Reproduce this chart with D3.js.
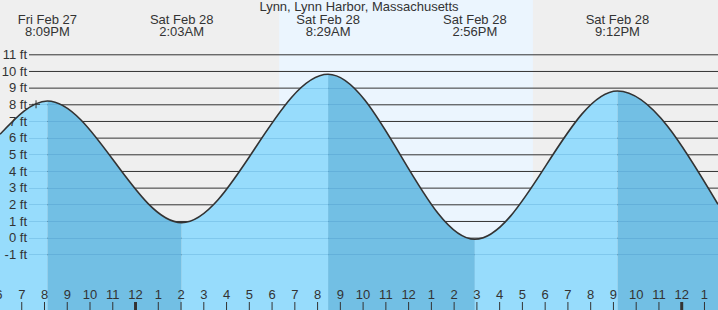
<!DOCTYPE html>
<html>
<head>
<meta charset="utf-8">
<script src="https://cdn.jsdelivr.net/npm/d3@7"></script>
<style>
  body { margin: 0; background: #efefef; }
  svg { display: block; font-family: "Liberation Sans", Arial, sans-serif; }
</style>
</head>
<body>
<div id="chart"></div>
<script>
// tide chart - Lynn Harbor

const width = 718, height = 310;

const title = "Lynn, Lynn Harbor, Massachusetts";

// high / low predictions
const tideTimes = ["2026-02-27 20:09", "2026-02-28 02:03", "2026-02-28 08:29", "2026-02-28 14:56", "2026-02-28 21:12"];
const tideHeights = [8.2, 0.9, 9.8, -0.1, 8.8];

// curve values read at the chart edges
const edgeTimes = ["2026-02-27 18:04", "2026-03-01 01:37"];
const edgeHeights = [6.2, 2.0];

const sunTimes = ["2026-02-28 06:20", "2026-02-28 17:29"];
const nowTime = "2026-02-27 19:39";
const nowHeight = 8.0;

const yTicks = [-1, 0, 1, 2, 3, 4, 5, 6, 7, 8, 9, 10, 11];

const parse = d3.timeParse("%Y-%m-%d %H:%M");

const extremes = tideTimes.map((t, i) => ({ t: parse(t), h: tideHeights[i] }));
const points = [{ t: parse(edgeTimes[0]), h: edgeHeights[0] }]
  .concat(extremes)
  .concat([{ t: parse(edgeTimes[1]), h: edgeHeights[1] }]);

const x = d3.scaleTime()
  .domain([parse(edgeTimes[0]), parse(edgeTimes[1])])
  .range([0, width]);

const y = d3.scaleLinear()
  .domain([-1, 11])
  .range([254.3, 54.3]);

const svg = d3.select("#chart")
  .append("svg")
  .attr("width", width)
  .attr("height", height);

// night / day background
svg.append("rect")
  .attr("width", width).attr("height", height)
  .attr("fill", "#efefef");
svg.append("rect")
  .attr("x", x(parse(sunTimes[0])))
  .attr("width", x(parse(sunTimes[1])) - x(parse(sunTimes[0])))
  .attr("height", height)
  .attr("fill", "#ebf5fe");

// grid lines
const grid = svg.append("g")
  .attr("transform", "translate(29,0)")
  .call(d3.axisLeft(y).tickValues(yTicks).tickSize(-(width - 29)).tickFormat(""));
grid.select(".domain").remove();
grid.selectAll("line").attr("stroke", "#333");

// water
const area = d3.area()
  .x(d => x(d.t))
  .y0(height)
  .y1(d => y(d.h))
  .curve(d3.curveMonotoneX);

const line = d3.line()
  .x(d => x(d.t))
  .y(d => y(d.h))
  .curve(d3.curveMonotoneX);

svg.append("clipPath")
  .attr("id", "water")
  .append("path")
  .attr("d", area(points));

const water = svg.append("g").attr("clip-path", "url(#water)");

// falling = darker, rising = lighter
const bounds = [x.domain()[0]].concat(extremes.map(d => d.t)).concat([x.domain()[1]]);
for (let i = 0; i < bounds.length - 1; i++) {
  let falling;
  if (i == 0) falling = extremes[0].h < extremes[1].h;
  else falling = extremes[i - 1].h > (extremes[i] ? extremes[i].h : -99);
  water.append("rect")
    .attr("x", x(bounds[i]))
    .attr("width", x(bounds[i + 1]) - x(bounds[i]))
    .attr("y", 0)
    .attr("height", height)
    .attr("fill", falling ? "#72bfe4" : "#97dcfc");
}

water.selectAll(".wline")
  .data(yTicks)
  .enter()
  .append("line")
  .attr("class", "wline")
  .attr("x1", 29).attr("x2", width)
  .attr("y1", d => Math.round(y(d)) + 0.5)
  .attr("y2", d => Math.round(y(d)) + 0.5)
  .attr("stroke", "rgba(40,120,180,0.2)");

svg.append("path")
  .attr("d", line(points))
  .attr("fill", "none")
  .attr("stroke", "#333")
  .attr("stroke-width", 1.6);

// y labels on top of the water
const yAxis = svg.append("g")
  .attr("transform", "translate(29,0)")
  .call(d3.axisLeft(y).tickValues(yTicks).tickSize(0).tickPadding(2).tickFormat(d => d + " ft"));
yAxis.select(".domain").remove();
yAxis.selectAll("text")
  .attr("fill", "#333")
  .attr("font-size", "13px")
  .attr("font-family", "Liberation Sans, Arial, sans-serif");

// current time marker
const nx = x(parse(nowTime)), ny = y(nowHeight);
svg.append("line")
  .attr("x1", nx).attr("x2", nx)
  .attr("y1", ny - 4).attr("y2", ny + 4)
  .attr("stroke", "#333");
svg.append("line")
  .attr("x1", nx - 4).attr("x2", nx + 4)
  .attr("y1", ny).attr("y2", ny)
  .attr("stroke", "#333");

// hour axis (first hour sits just off the left edge)
const hours = d3.timeHour.range(d3.timeHour.floor(x.domain()[0]), x.domain()[1]);
const xAxis = svg.append("g")
  .attr("transform", `translate(0,${height})`)
  .call(d3.axisTop(x).tickValues(hours).tickSize(8).tickPadding(3).tickFormat(d3.timeFormat("%-I")));
xAxis.select(".domain").remove();
xAxis.selectAll("line")
  .attr("stroke", "#333")
  .attr("stroke-width", d => d.getHours() == 0 ? 3 : 1);
xAxis.selectAll("text")
  .attr("fill", "#333")
  .attr("font-size", "13px")
  .attr("font-family", "Liberation Sans, Arial, sans-serif");

// title + extreme labels
svg.append("text")
  .attr("x", width / 2)
  .attr("y", 11)
  .attr("text-anchor", "middle")
  .attr("font-size", "13px")
  .attr("fill", "#333")
  .text(title);

const lbl = svg.selectAll(".lbl")
  .data(extremes)
  .enter()
  .append("text")
  .attr("class", "lbl")
  .attr("text-anchor", "middle")
  .attr("font-size", "13px")
  .attr("fill", "#333");
lbl.append("tspan")
  .attr("x", d => x(d.t))
  .attr("y", 24)
  .text(d => d3.timeFormat("%a %b %-d")(d.t));
lbl.append("tspan")
  .attr("x", d => x(d.t))
  .attr("y", 36)
  .text(d => d3.timeFormat("%-I:%M%p")(d.t));
</script>
</body>
</html>
